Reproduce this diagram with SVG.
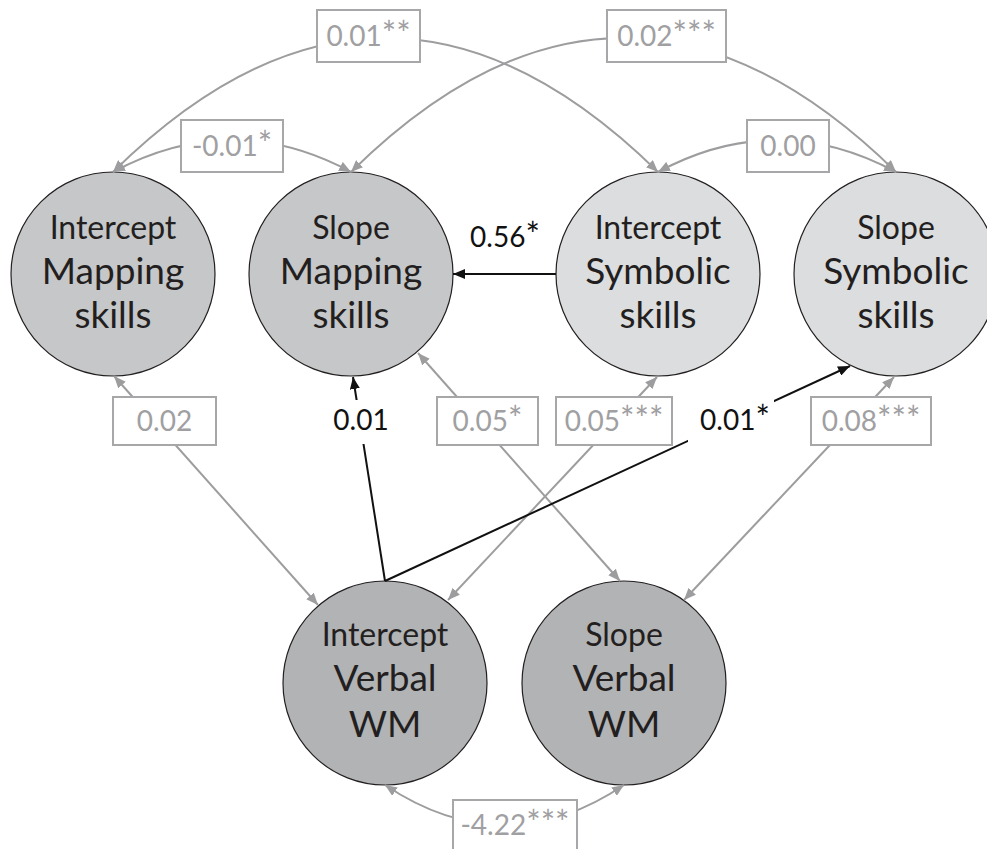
<svg xmlns="http://www.w3.org/2000/svg" width="987" height="849" viewBox="0 0 987 849">
<style>
.node{stroke:#231f20;stroke-width:1.2}
.map{fill:#c6c7c9}
.sym{fill:#dcdddf}
.verb{fill:#b2b3b5}
.nt{font-family:Lato,"Liberation Sans",sans-serif;fill:#231f20;text-anchor:middle}
.l1{font-size:32px}
.l2{font-size:37px}
.g{fill:none;stroke:#9d9d9f;stroke-width:2}
.k{fill:none;stroke:#111;stroke-width:2}
.box{fill:#fff;stroke:#a7a7a9;stroke-width:2}
.gt{font-family:Lato,"Liberation Sans",sans-serif;font-size:28px;fill:#a0a0a2;text-anchor:middle}
.kt{font-family:Lato,"Liberation Sans",sans-serif;font-size:28px;fill:#111;text-anchor:middle}
.st{font-size:34px}
</style>
<defs>
<marker id="ag" viewBox="0 0 12 10" refX="12" refY="5" markerWidth="12" markerHeight="10" markerUnits="userSpaceOnUse" orient="auto-start-reverse"><path d="M0,0 L12,5 L0,10 z" fill="#9d9d9f"/></marker>
<marker id="ak" viewBox="0 0 12 10" refX="12" refY="5" markerWidth="12" markerHeight="10" markerUnits="userSpaceOnUse" orient="auto"><path d="M0,0 L12,5 L0,10 z" fill="#111"/></marker>
</defs>

<g id="node-intercept-mapping">
<circle class="node map" cx="113" cy="274" r="102"/>
<text class="nt l1" x="113" y="239">Intercept</text>
<text class="nt l2" x="113" y="284">Mapping</text>
<text class="nt l2" x="113" y="328">skills</text>
</g>
<g id="node-slope-mapping">
<circle class="node map" cx="351" cy="274" r="102"/>
<text class="nt l1" x="351" y="239">Slope</text>
<text class="nt l2" x="351" y="284">Mapping</text>
<text class="nt l2" x="351" y="328">skills</text>
</g>
<g id="node-intercept-symbolic">
<circle class="node sym" cx="658" cy="274" r="102"/>
<text class="nt l1" x="658" y="239">Intercept</text>
<text class="nt l2" x="658" y="284">Symbolic</text>
<text class="nt l2" x="658" y="328">skills</text>
</g>
<g id="node-slope-symbolic">
<circle class="node sym" cx="896" cy="274" r="102"/>
<text class="nt l1" x="896" y="239">Slope</text>
<text class="nt l2" x="896" y="284">Symbolic</text>
<text class="nt l2" x="896" y="328">skills</text>
</g>
<g id="node-intercept-verbal">
<circle class="node verb" cx="385" cy="683" r="102"/>
<text class="nt l1" x="385" y="646">Intercept</text>
<text class="nt l2" x="385" y="691">Verbal</text>
<text class="nt l2" x="385" y="737">WM</text>
</g>
<g id="node-slope-verbal">
<circle class="node verb" cx="624" cy="683" r="102"/>
<text class="nt l1" x="624" y="646">Slope</text>
<text class="nt l2" x="624" y="691">Verbal</text>
<text class="nt l2" x="624" y="737">WM</text>
</g>

<g id="connectors">
<path class="g" d="M113,172 Q385,-96 658,172" marker-start="url(#ag)" marker-end="url(#ag)"/>
<path class="g" d="M351,172 Q623,-96 896,172" marker-start="url(#ag)" marker-end="url(#ag)"/>
<path class="g" d="M113,172 Q232,108 351,172" marker-start="url(#ag)" marker-end="url(#ag)"/>
<path class="g" d="M658,172 Q777,108 896,172" marker-start="url(#ag)" marker-end="url(#ag)"/>
<path class="g" d="M385,785 Q505,865 624,785" marker-start="url(#ag)" marker-end="url(#ag)"/>
<path class="g" d="M114,376 L318,605" marker-start="url(#ag)" marker-end="url(#ag)"/>
<path class="g" d="M418,353 L620,581" marker-start="url(#ag)" marker-end="url(#ag)"/>
<path class="g" d="M657,377 L448,600" marker-start="url(#ag)" marker-end="url(#ag)"/>
<path class="g" d="M894,377 L684,600" marker-start="url(#ag)" marker-end="url(#ag)"/>
<path class="k" d="M556,274 L453,274" marker-end="url(#ak)"/>
<path class="k" d="M385,581 L353,377" marker-end="url(#ak)"/>
<path class="k" d="M385,581 L850,366" marker-end="url(#ak)"/>

<rect x="336" y="400" width="54" height="44" fill="#fff"/>
<rect x="688" y="400" width="86" height="45" fill="#fff"/>
<text class="kt" x="505" y="247">0.56<tspan class="st">*</tspan></text>
<text class="kt" x="361" y="430">0.01</text>
<text class="kt" x="735" y="430">0.01<tspan class="st">*</tspan></text>

<rect class="box" x="317" y="10" width="103" height="52"/>
<text class="gt" x="368.5" y="46">0.01<tspan class="st">**</tspan></text>
<rect class="box" x="181" y="120" width="102" height="52"/>
<text class="gt" x="232" y="156">-0.01<tspan class="st">*</tspan></text>
<rect class="box" x="607" y="10" width="119" height="52"/>
<text class="gt" x="666.5" y="46">0.02<tspan class="st">***</tspan></text>
<rect class="box" x="747" y="120" width="82" height="52"/>
<text class="gt" x="788" y="156">0.00</text>
<rect class="box" x="113" y="397" width="103" height="48"/>
<text class="gt" x="164.5" y="431">0.02</text>
<rect class="box" x="437" y="397" width="101" height="48"/>
<text class="gt" x="487.5" y="431">0.05<tspan class="st">*</tspan></text>
<rect class="box" x="556" y="397" width="116" height="48"/>
<text class="gt" x="614" y="431">0.05<tspan class="st">***</tspan></text>
<rect class="box" x="811" y="397" width="120" height="48"/>
<text class="gt" x="871" y="431">0.08<tspan class="st">***</tspan></text>
<rect class="box" x="453" y="800" width="124" height="54"/>
<text class="gt" x="515" y="835">-4.22<tspan class="st">***</tspan></text>
</g>
</svg>
